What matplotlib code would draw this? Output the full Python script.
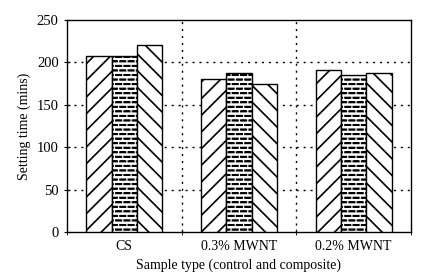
import matplotlib
matplotlib.use("Agg")
import matplotlib.pyplot as plt
import matplotlib.hatch as mhatch
from matplotlib.path import Path
import numpy as np

plt.rcParams['font.family'] = ['Liberation Serif', 'DejaVu Serif']
plt.rcParams['hatch.linewidth'] = 1.2


class BrickDashHatch(mhatch.HatchPatternBase):
    """Staggered horizontal dashes (replaces the plain '-' hatch)."""
    def __init__(self, hatch, density):
        n = hatch.count('-')
        self.num_rows = 22 if n else 0
        self.nd = 12
        self.frac = 0.66
        self.hh = 0.002
        self.num_vertices = self.num_rows * (self.nd + 1) * 5

    def set_vertices_and_codes(self, vertices, codes):
        idx = 0
        for r in range(self.num_rows):
            y = (r + 0.5) / self.num_rows
            off = 0.4 if r % 2 == 0 else 0.9
            for k in range(-1, self.nd):
                x0 = max(0.0, (k + off) / self.nd)
                x1 = min(1.0, (k + off + self.frac) / self.nd)
                pts = [(x0, y - self.hh), (x1, y - self.hh), (x1, y + self.hh),
                       (x0, y + self.hh), (x0, y - self.hh)]
                vertices[idx:idx + 5] = pts
                codes[idx:idx + 5] = [Path.MOVETO, Path.LINETO, Path.LINETO,
                                      Path.LINETO, Path.CLOSEPOLY]
                idx += 5


mhatch._hatch_types[:] = [BrickDashHatch if t is mhatch.HorizontalHatch else t
                          for t in mhatch._hatch_types]

categories = ["CS", "0.3% MWNT", "0.2% MWNT"]
series1 = [208, 180, 191]
series2 = [207, 187, 185]
series3 = [220, 174, 187]
hatches = ['//', '-', '\\\\']

fig = plt.figure(figsize=(4.24, 2.8), dpi=100)
ax = fig.add_axes([67/424, 1-232/280, 344/424, 212/280])

x = np.arange(len(categories))
w = 0.22
for i, (vals, h) in enumerate(zip([series1, series2, series3], hatches)):
    ax.bar(x + (i-1)*w, vals, w, color='white', edgecolor='black', hatch=h,
           linewidth=1.0, zorder=3)

ax.set_xlim(-0.5, 2.5)
ax.set_ylim(0, 250)
ax.set_yticks([0, 50, 100, 150, 200, 250])
ax.set_xticks(x)
ax.set_xticklabels(categories)
ax.set_xticks([-0.5, 0.5, 1.5, 2.5], minor=True)
ax.tick_params(axis='x', which='major', length=0, labelsize=10, pad=6)
ax.tick_params(axis='x', which='minor', length=4, direction='inout')
ax.tick_params(axis='y', length=5, direction='inout', labelsize=10.5)

for yv in [50, 100, 150, 200]:
    ax.axhline(yv, color='black', linestyle=(0, (1.5, 3.5)), linewidth=1.0, zorder=1)
for xv in [0.5, 1.5]:
    ax.axvline(xv, color='black', linestyle=(0, (1.5, 3.5)), linewidth=1.0, zorder=1)

for s in ax.spines.values():
    s.set_linewidth(1.0)

ax.set_ylabel("Setting time (mins)", fontsize=10)
ax.set_xlabel("Sample type (control and composite)", fontsize=10, labelpad=4)

fig.savefig("out.png", dpi=100)
